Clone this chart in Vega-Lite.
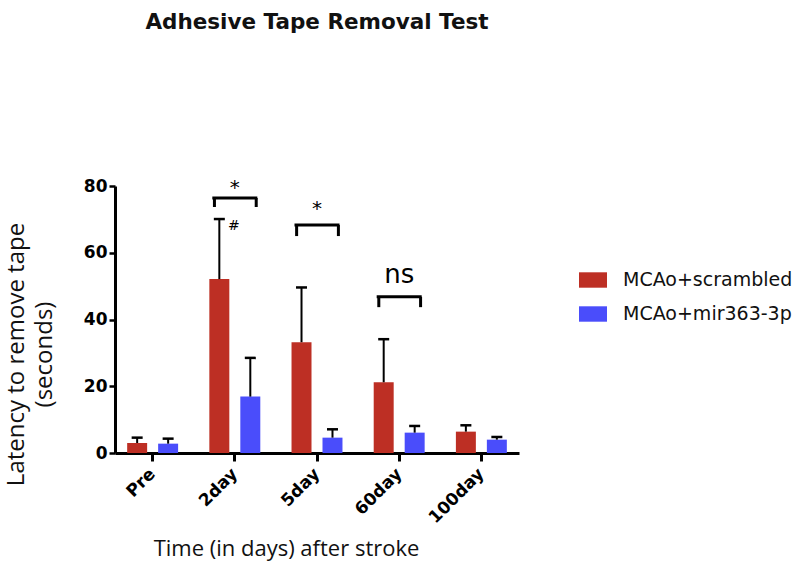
{
  "$schema": "https://vega.github.io/schema/vega-lite/v6.json",
  "width": 404,
  "height": 267,
  "autosize": "none",
  "padding": {"left": 115, "top": 186, "right": 281, "bottom": 113},
  "background": "white",
  "title": {"text": "Adhesive Tape Removal Test", "font": "DejaVu Sans", "fontSize": 21.5, "fontWeight": "bold", "color": "#111111", "anchor": "middle", "frame": "group", "baseline": "alphabetic", "offset": 127},
  "config": {"view": {"stroke": null}, "axis": {"grid": false}},
  "datasets": {
    "bars": [
      {"time": "Pre", "group": "MCAo+scrambled", "mean": 3.0, "upper": 4.6},
      {"time": "Pre", "group": "MCAo+mir363-3p", "mean": 2.8, "upper": 4.3},
      {"time": "2day", "group": "MCAo+scrambled", "mean": 52.1, "upper": 70.1},
      {"time": "2day", "group": "MCAo+mir363-3p", "mean": 16.9, "upper": 28.5},
      {"time": "5day", "group": "MCAo+scrambled", "mean": 33.2, "upper": 49.6},
      {"time": "5day", "group": "MCAo+mir363-3p", "mean": 4.6, "upper": 7.1},
      {"time": "60day", "group": "MCAo+scrambled", "mean": 21.2, "upper": 34.1},
      {"time": "60day", "group": "MCAo+mir363-3p", "mean": 6.1, "upper": 8.1},
      {"time": "100day", "group": "MCAo+scrambled", "mean": 6.4, "upper": 8.3},
      {"time": "100day", "group": "MCAo+mir363-3p", "mean": 4.0, "upper": 4.8}
    ],
    "brackets": [
      {"time": "2day", "top": 76.4, "low": 73.7},
      {"time": "5day", "top": 68.3, "low": 65.0},
      {"time": "60day", "top": 46.8, "low": 43.7}
    ],
    "notes": [
      {"time": "2day", "y": 77.6, "label": "*", "kind": "star"},
      {"time": "5day", "y": 71.3, "label": "*", "kind": "star"},
      {"time": "60day", "y": 51.0, "label": "ns", "kind": "ns"},
      {"time": "2day", "y": 66.8, "label": "#", "kind": "hash"}
    ]
  },
  "encoding": {
    "x": {
      "field": "time", "type": "nominal",
      "sort": ["Pre", "2day", "5day", "60day", "100day"],
      "scale": {"paddingInner": 0.38, "paddingOuter": 0.148},
      "axis": {
        "domainColor": "black", "domainWidth": 3, "tickColor": "black", "tickWidth": 3, "tickSize": 8,
        "labelFont": "DejaVu Sans", "labelFontWeight": "bold", "labelFontSize": 17, "labelColor": "black",
        "labelAngle": -45, "labelAlign": "right", "labelBaseline": "middle", "labelPadding": 10,
        "title": "Time (in days) after stroke", "titleFont": "Open Sans", "titleFontWeight": "normal", "titleFontSize": 22, "titleColor": "#111111",
        "titleX": 171, "titleY": 102, "titleBaseline": "alphabetic", "titleAlign": "center"
      }
    }
  },
  "layer": [
    {
      "data": {"name": "bars"},
      "mark": {"type": "bar"},
      "encoding": {
        "xOffset": {"field": "group", "type": "nominal", "sort": ["MCAo+scrambled", "MCAo+mir363-3p"], "scale": {"paddingInner": 0.355, "paddingOuter": 0}},
        "y": {
          "field": "mean", "type": "quantitative", "scale": {"domain": [0, 80], "nice": false},
          "axis": {
            "values": [0, 20, 40, 60, 80], "domainColor": "black", "domainWidth": 3, "tickColor": "black", "tickWidth": 2.5, "tickSize": 6,
            "labelFont": "DejaVu Sans", "labelFontWeight": "bold", "labelFontSize": 17, "labelColor": "black", "labelPadding": 2,
            "title": ["Latency to remove  tape", "(seconds)"], "titleFont": "Open Sans", "titleFontWeight": "normal", "titleFontSize": 24, "titleColor": "#111111",
            "titleX": -111, "titleY": 168, "titleAngle": -90, "titleBaseline": "top", "titleAlign": "center", "titleLineHeight": 28
          }
        },
        "color": {
          "field": "group", "type": "nominal",
          "scale": {"domain": ["MCAo+scrambled", "MCAo+mir363-3p"], "range": ["#bd2f24", "#4a4dfb"]},
          "legend": {
            "orient": "none", "legendX": 464, "legendY": 80, "title": null, "padding": 0,
            "symbolType": "M-1,-0.55H1V0.55H-1Z", "symbolSize": 784, "symbolStrokeWidth": 0, "symbolOpacity": 1,
            "labelFont": "DejaVu Sans", "labelFontSize": 19, "labelColor": "#111111", "labelOffset": 16, "rowPadding": 10, "labelLimit": 400
          }
        }
      }
    },
    {
      "data": {"name": "bars"},
      "mark": {"type": "rule", "color": "black", "strokeWidth": 2},
      "encoding": {
        "xOffset": {"field": "group", "type": "nominal", "sort": ["MCAo+scrambled", "MCAo+mir363-3p"]},
        "y": {"field": "mean", "type": "quantitative"},
        "y2": {"field": "upper"}
      }
    },
    {
      "data": {"name": "bars"},
      "mark": {"type": "tick", "orient": "horizontal", "color": "black", "size": 11, "thickness": 2.5, "opacity": 1},
      "encoding": {
        "xOffset": {"field": "group", "type": "nominal", "sort": ["MCAo+scrambled", "MCAo+mir363-3p"]},
        "y": {"field": "upper", "type": "quantitative"}
      }
    },
    {
      "data": {"name": "brackets"},
      "mark": {"type": "tick", "orient": "horizontal", "color": "black", "size": 45, "thickness": 3, "opacity": 1},
      "encoding": {
        "y": {"field": "top", "type": "quantitative"}
      }
    },
    {
      "data": {"name": "brackets"},
      "mark": {"type": "rule", "color": "black", "strokeWidth": 3},
      "encoding": {
        "x": {"field": "time", "type": "nominal", "sort": ["Pre", "2day", "5day", "60day", "100day"], "bandPosition": 0.1},
        "y": {"field": "low", "type": "quantitative"},
        "y2": {"field": "top"}
      }
    },
    {
      "data": {"name": "brackets"},
      "mark": {"type": "rule", "color": "black", "strokeWidth": 3},
      "encoding": {
        "x": {"field": "time", "type": "nominal", "sort": ["Pre", "2day", "5day", "60day", "100day"], "bandPosition": 0.92},
        "y": {"field": "low", "type": "quantitative"},
        "y2": {"field": "top"}
      }
    },
    {
      "data": {"name": "notes"},
      "transform": [{"filter": "datum.kind === 'star'"}],
      "mark": {"type": "text", "font": "DejaVu Sans", "fontSize": 20, "baseline": "alphabetic", "align": "center", "color": "black"},
      "encoding": {
        "y": {"field": "y", "type": "quantitative"},
        "text": {"field": "label"}
      }
    },
    {
      "data": {"name": "notes"},
      "transform": [{"filter": "datum.kind === 'ns'"}],
      "mark": {"type": "text", "font": "DejaVu Sans", "fontSize": 26, "baseline": "alphabetic", "align": "center", "color": "black"},
      "encoding": {
        "y": {"field": "y", "type": "quantitative"},
        "text": {"field": "label"}
      }
    },
    {
      "data": {"name": "notes"},
      "transform": [{"filter": "datum.kind === 'hash'"}],
      "mark": {"type": "text", "font": "DejaVu Sans", "fontSize": 14, "baseline": "alphabetic", "align": "center", "color": "black"},
      "encoding": {
        "x": {"field": "time", "type": "nominal", "sort": ["Pre", "2day", "5day", "60day", "100day"], "bandPosition": 0.48},
        "y": {"field": "y", "type": "quantitative"},
        "text": {"field": "label"}
      }
    }
  ]
}
